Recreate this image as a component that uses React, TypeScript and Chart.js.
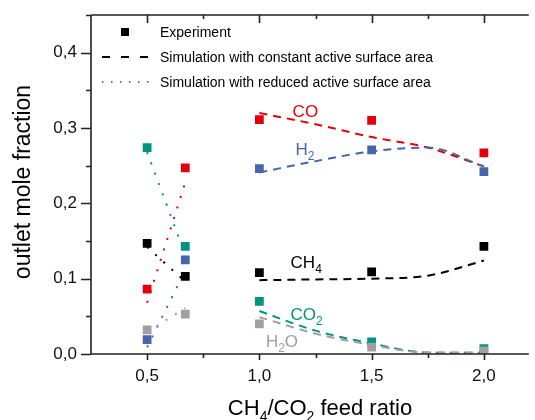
import React, { useEffect, useRef } from 'react';
import { Chart, registerables } from 'chart.js';

Chart.register(...registerables);

const FONT = "'Liberation Sans', Arial, Helvetica, sans-serif";

// Experiment (markers)
const expX = [0.5, 0.67, 1.0, 1.5, 2.0];
const expCO = [0.086, 0.247, 0.311, 0.310, 0.267];
const expH2 = [0.019, 0.125, 0.246, 0.271, 0.242];
const expCH4 = [0.147, 0.103, 0.108, 0.109, 0.143];
const expCO2 = [0.274, 0.143, 0.070, 0.016, 0.007];
const expH2O = [0.032, 0.053, 0.040, 0.009, 0.004];

// Simulation with constant active surface area (dashed)
const simX = [1.0, 1.25, 1.5, 1.75, 2.0];
const simCO = [0.320, 0.305, 0.288, 0.274, 0.249];
const simH2 = [0.241, 0.256, 0.269, 0.274, 0.249];
const simCH4 = [0.098, 0.099, 0.100, 0.104, 0.124];
const simCO2 = [0.057, 0.031, 0.014, 0.002, 0.0015];
const simH2O = [0.049, 0.027, 0.012, 0.002, 0.002];

// Simulation with reduced active surface area (dotted)
const redX = [0.5, 0.67];
const redCO = [0.068, 0.228];
const redH2 = [0.009, 0.111];
const redCH4 = [0.142, 0.096];
const redCO2 = [0.268, 0.131];
const redH2O = [0.029, 0.061];

const speciesColors = ['#e3000b', '#4565ad', '#000000', '#00937f', '#a0a0a0'];
const expSeries = [expCO, expH2, expCH4, expCO2, expH2O];
const simSeries = [simCO, simH2, simCH4, simCO2, simH2O];
const redSeries = [redCO, redH2, redCH4, redCO2, redH2O];

const legendLabels = [
  'Experiment',
  'Simulation with constant active surface area',
  'Simulation with reduced active surface area',
];

// species labels inside the plot: [text, isSubscript] parts, anchored in data units
const speciesLabels = [
  { parts: [['CO', false]], x: 1.148, y: 0.314, c: 0 },
  { parts: [['H', false], ['2', true]], x: 1.161, y: 0.2636, c: 1 },
  { parts: [['CH', false], ['4', true]], x: 1.139, y: 0.1139, c: 2 },
  { parts: [['CO', false], ['2', true]], x: 1.139, y: 0.045, c: 3 },
  { parts: [['H', false], ['2', true], ['O', false]], x: 1.029, y: 0.0093, c: 4 },
];

const xTitleParts = [['CH', false], ['4', true], ['/CO', false], ['2', true], [' feed ratio', false]];
const yTitle = 'outlet mole fraction';

const fmt = (v: number) => v.toFixed(1).replace('.', ',');
const isMult = (v: number, s: number) => Math.abs(v / s - Math.round(v / s)) < 1e-6;

function drawRich(ctx: CanvasRenderingContext2D, x: number, y: number, parts: any[], size: number, subSize: number, subOff: number) {
  let cx = x;
  for (const [t, sub] of parts) {
    ctx.font = `${sub ? subSize : size}px ${FONT}`;
    ctx.fillText(t, cx, sub ? y + subOff : y);
    cx += ctx.measureText(t).width;
  }
}

function richWidth(ctx: CanvasRenderingContext2D, parts: any[], size: number, subSize: number) {
  let w = 0;
  for (const [t, sub] of parts) {
    ctx.font = `${sub ? subSize : size}px ${FONT}`;
    w += ctx.measureText(t).width;
  }
  return w;
}

const decorPlugin = {
  id: 'decor',
  afterDraw(chart: any) {
    const { ctx, chartArea: a, scales } = chart;
    const xs = scales.x;
    const ys = scales.y;
    ctx.save();
    ctx.strokeStyle = '#222';
    ctx.lineWidth = 1.6;
    ctx.setLineDash([]);
    ctx.beginPath();
    ctx.moveTo(a.left, a.top);
    ctx.lineTo(a.left, a.bottom);
    ctx.moveTo(a.left, a.bottom);
    ctx.lineTo(a.right, a.bottom);
    ctx.moveTo(a.left, a.top);
    ctx.lineTo(a.right, a.top);
    // y ticks
    for (let v = 0; v <= 0.45 + 1e-9; v += 0.05) {
      const py = Math.round(ys.getPixelForValue(v)) + 0.5;
      const len = isMult(v, 0.1) ? 10 : 5;
      ctx.moveTo(a.left, py);
      ctx.lineTo(a.left - len, py);
    }
    // x ticks bottom (outward) and top (inward)
    for (let v = 0.5; v <= 2.2 + 1e-9; v += 0.25) {
      const px = Math.round(xs.getPixelForValue(v)) + 0.5;
      const major = isMult(v, 0.5);
      ctx.moveTo(px, a.bottom);
      ctx.lineTo(px, a.bottom + (major ? 6 : 4));
      ctx.moveTo(px, a.top);
      ctx.lineTo(px, a.top + (major ? 8 : 4));
    }
    ctx.stroke();

    // species labels
    ctx.textBaseline = 'alphabetic';
    ctx.textAlign = 'left';
    for (const l of speciesLabels) {
      ctx.fillStyle = speciesColors[l.c];
      drawRich(ctx, xs.getPixelForValue(l.x), ys.getPixelForValue(l.y), l.parts, 17, 12, 5);
    }

    // legend
    ctx.fillStyle = '#000';
    ctx.fillRect(121, 28, 8, 8);
    ctx.strokeStyle = '#000';
    ctx.lineWidth = 2;
    ctx.setLineDash([8, 11]);
    ctx.beginPath();
    ctx.moveTo(102, 57);
    ctx.lineTo(149, 57);
    ctx.stroke();
    ctx.strokeStyle = '#444';
    ctx.lineWidth = 1.5;
    ctx.setLineDash([1.5, 7.5]);
    ctx.beginPath();
    ctx.moveTo(102, 82);
    ctx.lineTo(149, 82);
    ctx.stroke();
    ctx.setLineDash([]);
    ctx.font = `14px ${FONT}`;
    ctx.fillStyle = '#000';
    ctx.fillText(legendLabels[0], 160, 37);
    ctx.fillText(legendLabels[1], 160, 62);
    ctx.fillText(legendLabels[2], 160, 87);

    // x title
    ctx.fillStyle = '#000';
    const w = richWidth(ctx, xTitleParts, 22, 14);
    drawRich(ctx, 320 - w / 2, 415, xTitleParts, 22, 14, 6);

    // y title
    ctx.save();
    ctx.translate(30, 182);
    ctx.rotate(-Math.PI / 2);
    ctx.font = `23px ${FONT}`;
    ctx.textAlign = 'center';
    ctx.fillText(yTitle, 0, 0);
    ctx.restore();

    ctx.restore();
  },
};

export default function App() {
  const ref = useRef<HTMLCanvasElement | null>(null);
  useEffect(() => {
    if (!ref.current) return;
    const datasets: any[] = [];
    expSeries.forEach((s, i) => {
      datasets.push({
        label: 'exp' + i,
        data: expX.map((x, j) => ({ x, y: s[j] })),
        showLine: false,
        pointStyle: 'rect',
        pointRadius: 6.2,
        pointBorderWidth: 0,
        borderWidth: 0,
        backgroundColor: speciesColors[i],
        borderColor: speciesColors[i],
        order: 10 - i,
      });
    });
    simSeries.forEach((s, i) => {
      datasets.push({
        label: 'sim' + i,
        data: simX.map((x, j) => ({ x, y: s[j] })),
        showLine: true,
        pointRadius: 0,
        borderColor: speciesColors[i],
        borderWidth: 2,
        borderDash: [8, 6],
        tension: 0.4,
        cubicInterpolationMode: 'monotone',
        fill: false,
        order: 20 - i,
      });
    });
    redSeries.forEach((s, i) => {
      datasets.push({
        label: 'red' + i,
        data: redX.map((x, j) => ({ x, y: s[j] })),
        showLine: true,
        pointRadius: 0,
        borderColor: speciesColors[i],
        borderWidth: 2,
        borderDash: [2, 9],
        fill: false,
        order: 30 - i,
      });
    });

    const chart = new Chart(ref.current, {
      type: 'scatter',
      data: { datasets },
      options: {
        animation: false,
        responsive: false,
        devicePixelRatio: 1,
        events: [],
        layout: { padding: { top: 15, right: 0, left: 0, bottom: 0 } },
        plugins: { legend: { display: false }, tooltip: { enabled: false } },
        scales: {
          x: {
            type: 'linear',
            min: 0.25,
            max: 2.2,
            grid: { display: false, drawTicks: false },
            border: { display: false },
            ticks: {
              stepSize: 0.25,
              autoSkip: false,
              maxRotation: 0,
              padding: 12,
              color: '#111',
              font: { family: FONT, size: 17 },
              callback: (v: any) => (isMult(Number(v), 0.5) ? fmt(Number(v)) : ''),
            },
            afterFit: (s: any) => {
              s.height = 66;
              s.paddingLeft = 0;
              s.paddingRight = 0;
            },
          },
          y: {
            type: 'linear',
            min: 0,
            max: 0.45,
            grid: { display: false, drawTicks: false },
            border: { display: false },
            ticks: {
              stepSize: 0.05,
              autoSkip: false,
              padding: 14,
              color: '#111',
              font: { family: FONT, size: 17 },
              callback: (v: any) => (isMult(Number(v), 0.1) ? fmt(Number(v)) : ''),
            },
            afterFit: (s: any) => {
              s.width = 91;
              s.paddingTop = 0;
              s.paddingBottom = 0;
            },
          },
        },
      },
      plugins: [decorPlugin],
    } as any);
    return () => chart.destroy();
  }, []);

  return (
    <div style={{ position: 'fixed', left: 0, top: 0, width: 535, height: 420, background: '#fff' }}>
      <canvas ref={ref} width={535} height={420} style={{ display: 'block' }} />
    </div>
  );
}
